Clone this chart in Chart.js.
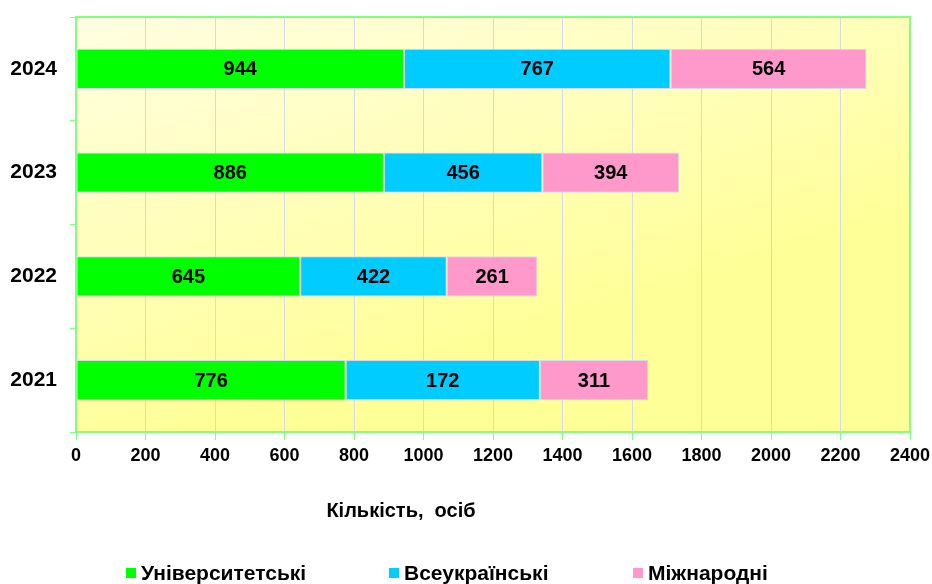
<!DOCTYPE html>
<html>
<head>
<meta charset="utf-8">
<script src="https://cdn.jsdelivr.net/npm/chart.js@4.4.1/dist/chart.umd.min.js"></script>
<style>
  html, body { margin: 0; padding: 0; background: #ffffff; }
  #wrap { width: 932px; height: 584px; position: relative; }
</style>
</head>
<body>
<div id="wrap"><canvas id="c" width="932" height="584"></canvas></div>
<script>
// ---- data ----
const categories = ['2024', '2023', '2022', '2021'];
const seriesNames = ['Університетські', 'Всеукраїнські', 'Міжнародні'];
const universityValues = [944, 886, 645, 776];
const nationalValues = [767, 456, 422, 559];      // bar lengths as drawn
const nationalLabels = ['767', '456', '422', '172']; // labels as printed
const internationalValues = [564, 394, 261, 311];
const xTicks = [0, 200, 400, 600, 800, 1000, 1200, 1400, 1600, 1800, 2000, 2200, 2400];
const axisTitle = 'Кількість,  осіб';

const colors = ['#00ff00', '#00ccff', '#ff99cc'];
const FONT = '"Liberation Sans", Arial, sans-serif';

const bgPlugin = {
  id: 'bg',
  beforeDraw(chart) {
    const { ctx, chartArea: a } = chart;
    const g = ctx.createLinearGradient(a.left, a.top, a.left + (a.right - a.left) * 0.15, a.bottom);
    g.addColorStop(0, '#fffee2');
    g.addColorStop(1, '#ffff98');
    ctx.save();
    ctx.fillStyle = g;
    ctx.fillRect(a.left, a.top, a.right - a.left, a.bottom - a.top);
    ctx.restore();
  },
  afterDatasetsDraw(chart) {
    const { ctx, chartArea: a } = chart;
    ctx.save();
    ctx.strokeStyle = '#80ff80';
    ctx.lineWidth = 2;
    ctx.strokeRect(a.left, a.top, a.right - a.left, a.bottom - a.top);
    ctx.restore();
  }
};

const labelPlugin = {
  id: 'barLabels',
  afterDatasetsDraw(chart) {
    const { ctx } = chart;
    ctx.save();
    ctx.font = 'bold 20px ' + FONT;
    ctx.fillStyle = '#000';
    ctx.textAlign = 'center';
    ctx.textBaseline = 'middle';
    chart.data.datasets.forEach((ds, di) => {
      const meta = chart.getDatasetMeta(di);
      meta.data.forEach((bar, i) => {
        const txt = ds.valueLabels ? ds.valueLabels[i] : String(ds.data[i]);
        const cx = (bar.x + bar.base) / 2;
        ctx.fillText(txt, cx, bar.y + 1);
      });
    });
    ctx.restore();
  }
};

const extraPlugin = {
  id: 'titleLegend',
  afterDraw(chart) {
    const { ctx } = chart;
    ctx.save();
    ctx.fillStyle = '#000';
    ctx.textBaseline = 'middle';
    ctx.textAlign = 'center';
    ctx.font = 'bold 20px ' + FONT;
    ctx.fillText(axisTitle, 401, 511);
    ctx.textAlign = 'left';
    ctx.font = 'bold 21px ' + FONT;
    const boxX = [126, 389, 633];
    chart.data.datasets.forEach((ds, i) => {
      ctx.fillStyle = ds.backgroundColor;
      ctx.fillRect(boxX[i], 568, 10, 10);
      ctx.fillStyle = '#000';
      ctx.fillText(ds.label, boxX[i] + 15, 574);
    });
    ctx.restore();
  }
};

new Chart(document.getElementById('c'), {
  type: 'bar',
  data: {
    labels: categories,
    datasets: [
      { label: seriesNames[0], data: universityValues, backgroundColor: colors[0] },
      { label: seriesNames[1], data: nationalValues, backgroundColor: colors[1], valueLabels: nationalLabels },
      { label: seriesNames[2], data: internationalValues, backgroundColor: colors[2] }
    ].map(d => Object.assign(d, {
      borderColor: '#d3dce8', borderWidth: 1, borderSkipped: false,
      barPercentage: 0.39, categoryPercentage: 1.0
    }))
  },
  options: {
    indexAxis: 'y',
    responsive: false,
    animation: false,
    devicePixelRatio: 1,
    layout: { padding: { top: 17, right: 22, bottom: 112, left: 0 } },
    plugins: { legend: { display: false }, tooltip: { enabled: false } },
    scales: {
      x: {
        stacked: true, min: 0, max: 2400,
        afterBuildTicks(scale) { scale.ticks = xTicks.map(v => ({ value: v })); },
        afterFit(scale) { scale.height = 40; scale.paddingLeft = 0; scale.paddingRight = 0; },
        grid: { color: '#d5dbe2', tickColor: '#80ff80', tickLength: 8, lineWidth: 1 },
        border: { display: false },
        ticks: {
          color: '#000', font: { family: FONT, size: 18, weight: 'bold' }, padding: 5,
          maxRotation: 0, autoSkip: false,
          callback: (v) => String(v)
        }
      },
      y: {
        stacked: true,
        afterFit(scale) { scale.width = 76; scale.paddingTop = 0; scale.paddingBottom = 0; },
        grid: { offset: true, drawOnChartArea: false, color: '#80ff80', tickLength: 6, lineWidth: 1 },
        border: { display: false },
        ticks: { color: '#000', font: { family: FONT, size: 21, weight: 'bold' }, padding: 13 }
      }
    }
  },
  plugins: [bgPlugin, labelPlugin, extraPlugin]
});
</script>
</body>
</html>
